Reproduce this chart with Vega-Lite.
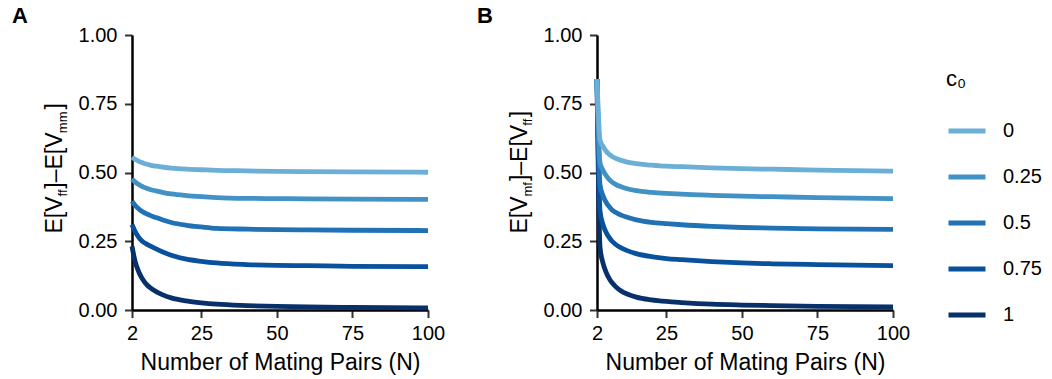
{
  "$schema": "https://vega.github.io/schema/vega-lite/v6.json",
  "background": "white",
  "padding": {"left": 12, "top": 5, "right": 0, "bottom": 0},
  "data": {
    "values": [
      {"panel": "A", "c0": "1", "N": 2, "value": 0.232},
      {"panel": "A", "c0": "1", "N": 3, "value": 0.178},
      {"panel": "A", "c0": "1", "N": 4, "value": 0.145},
      {"panel": "A", "c0": "1", "N": 5, "value": 0.121},
      {"panel": "A", "c0": "1", "N": 6, "value": 0.104},
      {"panel": "A", "c0": "1", "N": 7, "value": 0.091},
      {"panel": "A", "c0": "1", "N": 8, "value": 0.081},
      {"panel": "A", "c0": "1", "N": 10, "value": 0.067},
      {"panel": "A", "c0": "1", "N": 12, "value": 0.056},
      {"panel": "A", "c0": "1", "N": 15, "value": 0.044},
      {"panel": "A", "c0": "1", "N": 20, "value": 0.033},
      {"panel": "A", "c0": "1", "N": 25, "value": 0.026},
      {"panel": "A", "c0": "1", "N": 30, "value": 0.021},
      {"panel": "A", "c0": "1", "N": 40, "value": 0.016},
      {"panel": "A", "c0": "1", "N": 50, "value": 0.013},
      {"panel": "A", "c0": "1", "N": 60, "value": 0.011},
      {"panel": "A", "c0": "1", "N": 75, "value": 0.0095},
      {"panel": "A", "c0": "1", "N": 100, "value": 0.008},
      {"panel": "A", "c0": "0.75", "N": 2, "value": 0.311},
      {"panel": "A", "c0": "0.75", "N": 3, "value": 0.286},
      {"panel": "A", "c0": "0.75", "N": 4, "value": 0.268},
      {"panel": "A", "c0": "0.75", "N": 5, "value": 0.254},
      {"panel": "A", "c0": "0.75", "N": 6, "value": 0.245},
      {"panel": "A", "c0": "0.75", "N": 7, "value": 0.239},
      {"panel": "A", "c0": "0.75", "N": 8, "value": 0.233},
      {"panel": "A", "c0": "0.75", "N": 10, "value": 0.222},
      {"panel": "A", "c0": "0.75", "N": 12, "value": 0.212},
      {"panel": "A", "c0": "0.75", "N": 15, "value": 0.199},
      {"panel": "A", "c0": "0.75", "N": 20, "value": 0.185},
      {"panel": "A", "c0": "0.75", "N": 25, "value": 0.177},
      {"panel": "A", "c0": "0.75", "N": 30, "value": 0.171},
      {"panel": "A", "c0": "0.75", "N": 40, "value": 0.165},
      {"panel": "A", "c0": "0.75", "N": 50, "value": 0.162},
      {"panel": "A", "c0": "0.75", "N": 60, "value": 0.161},
      {"panel": "A", "c0": "0.75", "N": 75, "value": 0.159},
      {"panel": "A", "c0": "0.75", "N": 100, "value": 0.158},
      {"panel": "A", "c0": "0.5", "N": 2, "value": 0.396},
      {"panel": "A", "c0": "0.5", "N": 3, "value": 0.381},
      {"panel": "A", "c0": "0.5", "N": 4, "value": 0.370},
      {"panel": "A", "c0": "0.5", "N": 5, "value": 0.361},
      {"panel": "A", "c0": "0.5", "N": 6, "value": 0.354},
      {"panel": "A", "c0": "0.5", "N": 7, "value": 0.349},
      {"panel": "A", "c0": "0.5", "N": 8, "value": 0.344},
      {"panel": "A", "c0": "0.5", "N": 10, "value": 0.336},
      {"panel": "A", "c0": "0.5", "N": 12, "value": 0.328},
      {"panel": "A", "c0": "0.5", "N": 15, "value": 0.318},
      {"panel": "A", "c0": "0.5", "N": 20, "value": 0.308},
      {"panel": "A", "c0": "0.5", "N": 25, "value": 0.302},
      {"panel": "A", "c0": "0.5", "N": 30, "value": 0.297},
      {"panel": "A", "c0": "0.5", "N": 40, "value": 0.294},
      {"panel": "A", "c0": "0.5", "N": 50, "value": 0.292},
      {"panel": "A", "c0": "0.5", "N": 60, "value": 0.291},
      {"panel": "A", "c0": "0.5", "N": 75, "value": 0.290},
      {"panel": "A", "c0": "0.5", "N": 100, "value": 0.289},
      {"panel": "A", "c0": "0.25", "N": 2, "value": 0.477},
      {"panel": "A", "c0": "0.25", "N": 3, "value": 0.466},
      {"panel": "A", "c0": "0.25", "N": 4, "value": 0.458},
      {"panel": "A", "c0": "0.25", "N": 5, "value": 0.451},
      {"panel": "A", "c0": "0.25", "N": 6, "value": 0.446},
      {"panel": "A", "c0": "0.25", "N": 7, "value": 0.442},
      {"panel": "A", "c0": "0.25", "N": 8, "value": 0.438},
      {"panel": "A", "c0": "0.25", "N": 10, "value": 0.433},
      {"panel": "A", "c0": "0.25", "N": 12, "value": 0.428},
      {"panel": "A", "c0": "0.25", "N": 15, "value": 0.422},
      {"panel": "A", "c0": "0.25", "N": 20, "value": 0.416},
      {"panel": "A", "c0": "0.25", "N": 25, "value": 0.412},
      {"panel": "A", "c0": "0.25", "N": 30, "value": 0.409},
      {"panel": "A", "c0": "0.25", "N": 40, "value": 0.406},
      {"panel": "A", "c0": "0.25", "N": 50, "value": 0.405},
      {"panel": "A", "c0": "0.25", "N": 60, "value": 0.404},
      {"panel": "A", "c0": "0.25", "N": 75, "value": 0.403},
      {"panel": "A", "c0": "0.25", "N": 100, "value": 0.402},
      {"panel": "A", "c0": "0", "N": 2, "value": 0.556},
      {"panel": "A", "c0": "0", "N": 3, "value": 0.548},
      {"panel": "A", "c0": "0", "N": 4, "value": 0.542},
      {"panel": "A", "c0": "0", "N": 5, "value": 0.537},
      {"panel": "A", "c0": "0", "N": 6, "value": 0.533},
      {"panel": "A", "c0": "0", "N": 7, "value": 0.530},
      {"panel": "A", "c0": "0", "N": 8, "value": 0.527},
      {"panel": "A", "c0": "0", "N": 10, "value": 0.523},
      {"panel": "A", "c0": "0", "N": 12, "value": 0.520},
      {"panel": "A", "c0": "0", "N": 15, "value": 0.516},
      {"panel": "A", "c0": "0", "N": 20, "value": 0.512},
      {"panel": "A", "c0": "0", "N": 25, "value": 0.510},
      {"panel": "A", "c0": "0", "N": 30, "value": 0.508},
      {"panel": "A", "c0": "0", "N": 40, "value": 0.506},
      {"panel": "A", "c0": "0", "N": 50, "value": 0.504},
      {"panel": "A", "c0": "0", "N": 60, "value": 0.503},
      {"panel": "A", "c0": "0", "N": 75, "value": 0.502},
      {"panel": "A", "c0": "0", "N": 100, "value": 0.501},
      {"panel": "B", "c0": "1", "N": 2, "value": 0.84},
      {"panel": "B", "c0": "1", "N": 3, "value": 0.228},
      {"panel": "B", "c0": "1", "N": 4, "value": 0.17},
      {"panel": "B", "c0": "1", "N": 5, "value": 0.138},
      {"panel": "B", "c0": "1", "N": 6, "value": 0.115},
      {"panel": "B", "c0": "1", "N": 7, "value": 0.099},
      {"panel": "B", "c0": "1", "N": 8, "value": 0.087},
      {"panel": "B", "c0": "1", "N": 10, "value": 0.069},
      {"panel": "B", "c0": "1", "N": 12, "value": 0.058},
      {"panel": "B", "c0": "1", "N": 15, "value": 0.047},
      {"panel": "B", "c0": "1", "N": 20, "value": 0.037},
      {"panel": "B", "c0": "1", "N": 25, "value": 0.031},
      {"panel": "B", "c0": "1", "N": 30, "value": 0.027},
      {"panel": "B", "c0": "1", "N": 40, "value": 0.021},
      {"panel": "B", "c0": "1", "N": 50, "value": 0.018},
      {"panel": "B", "c0": "1", "N": 60, "value": 0.016},
      {"panel": "B", "c0": "1", "N": 75, "value": 0.013},
      {"panel": "B", "c0": "1", "N": 100, "value": 0.011},
      {"panel": "B", "c0": "0.75", "N": 2, "value": 0.84},
      {"panel": "B", "c0": "0.75", "N": 3, "value": 0.36},
      {"panel": "B", "c0": "0.75", "N": 4, "value": 0.31},
      {"panel": "B", "c0": "0.75", "N": 5, "value": 0.283},
      {"panel": "B", "c0": "0.75", "N": 6, "value": 0.264},
      {"panel": "B", "c0": "0.75", "N": 7, "value": 0.250},
      {"panel": "B", "c0": "0.75", "N": 8, "value": 0.240},
      {"panel": "B", "c0": "0.75", "N": 10, "value": 0.226},
      {"panel": "B", "c0": "0.75", "N": 12, "value": 0.216},
      {"panel": "B", "c0": "0.75", "N": 15, "value": 0.205},
      {"panel": "B", "c0": "0.75", "N": 20, "value": 0.194},
      {"panel": "B", "c0": "0.75", "N": 25, "value": 0.187},
      {"panel": "B", "c0": "0.75", "N": 30, "value": 0.183},
      {"panel": "B", "c0": "0.75", "N": 40, "value": 0.176},
      {"panel": "B", "c0": "0.75", "N": 50, "value": 0.171},
      {"panel": "B", "c0": "0.75", "N": 60, "value": 0.168},
      {"panel": "B", "c0": "0.75", "N": 75, "value": 0.165},
      {"panel": "B", "c0": "0.75", "N": 100, "value": 0.161},
      {"panel": "B", "c0": "0.5", "N": 2, "value": 0.84},
      {"panel": "B", "c0": "0.5", "N": 3, "value": 0.455},
      {"panel": "B", "c0": "0.5", "N": 4, "value": 0.415},
      {"panel": "B", "c0": "0.5", "N": 5, "value": 0.392},
      {"panel": "B", "c0": "0.5", "N": 6, "value": 0.376},
      {"panel": "B", "c0": "0.5", "N": 7, "value": 0.364},
      {"panel": "B", "c0": "0.5", "N": 8, "value": 0.356},
      {"panel": "B", "c0": "0.5", "N": 10, "value": 0.345},
      {"panel": "B", "c0": "0.5", "N": 12, "value": 0.337},
      {"panel": "B", "c0": "0.5", "N": 15, "value": 0.328},
      {"panel": "B", "c0": "0.5", "N": 20, "value": 0.319},
      {"panel": "B", "c0": "0.5", "N": 25, "value": 0.314},
      {"panel": "B", "c0": "0.5", "N": 30, "value": 0.310},
      {"panel": "B", "c0": "0.5", "N": 40, "value": 0.304},
      {"panel": "B", "c0": "0.5", "N": 50, "value": 0.300},
      {"panel": "B", "c0": "0.5", "N": 60, "value": 0.298},
      {"panel": "B", "c0": "0.5", "N": 75, "value": 0.295},
      {"panel": "B", "c0": "0.5", "N": 100, "value": 0.293},
      {"panel": "B", "c0": "0.25", "N": 2, "value": 0.84},
      {"panel": "B", "c0": "0.25", "N": 3, "value": 0.535},
      {"panel": "B", "c0": "0.25", "N": 4, "value": 0.508},
      {"panel": "B", "c0": "0.25", "N": 5, "value": 0.489},
      {"panel": "B", "c0": "0.25", "N": 6, "value": 0.475},
      {"panel": "B", "c0": "0.25", "N": 7, "value": 0.465},
      {"panel": "B", "c0": "0.25", "N": 8, "value": 0.458},
      {"panel": "B", "c0": "0.25", "N": 10, "value": 0.448},
      {"panel": "B", "c0": "0.25", "N": 12, "value": 0.441},
      {"panel": "B", "c0": "0.25", "N": 15, "value": 0.434},
      {"panel": "B", "c0": "0.25", "N": 20, "value": 0.428},
      {"panel": "B", "c0": "0.25", "N": 25, "value": 0.424},
      {"panel": "B", "c0": "0.25", "N": 30, "value": 0.421},
      {"panel": "B", "c0": "0.25", "N": 40, "value": 0.417},
      {"panel": "B", "c0": "0.25", "N": 50, "value": 0.414},
      {"panel": "B", "c0": "0.25", "N": 60, "value": 0.412},
      {"panel": "B", "c0": "0.25", "N": 75, "value": 0.409},
      {"panel": "B", "c0": "0.25", "N": 100, "value": 0.405},
      {"panel": "B", "c0": "0", "N": 2, "value": 0.84},
      {"panel": "B", "c0": "0", "N": 3, "value": 0.618},
      {"panel": "B", "c0": "0", "N": 4, "value": 0.595},
      {"panel": "B", "c0": "0", "N": 5, "value": 0.578},
      {"panel": "B", "c0": "0", "N": 6, "value": 0.566},
      {"panel": "B", "c0": "0", "N": 7, "value": 0.558},
      {"panel": "B", "c0": "0", "N": 8, "value": 0.552},
      {"panel": "B", "c0": "0", "N": 10, "value": 0.544},
      {"panel": "B", "c0": "0", "N": 12, "value": 0.538},
      {"panel": "B", "c0": "0", "N": 15, "value": 0.532},
      {"panel": "B", "c0": "0", "N": 20, "value": 0.527},
      {"panel": "B", "c0": "0", "N": 25, "value": 0.523},
      {"panel": "B", "c0": "0", "N": 30, "value": 0.521},
      {"panel": "B", "c0": "0", "N": 40, "value": 0.517},
      {"panel": "B", "c0": "0", "N": 50, "value": 0.514},
      {"panel": "B", "c0": "0", "N": 60, "value": 0.512},
      {"panel": "B", "c0": "0", "N": 75, "value": 0.509},
      {"panel": "B", "c0": "0", "N": 100, "value": 0.505}
    ]
  },
  "spacing": 32,
  "hconcat": [
    {
      "title": {"text": "A", "anchor": "start", "frame": "group", "dx": -120},
      "transform": [{"filter": "datum.panel === 'A'"}],
      "width": 296,
      "height": 275,
      "layer": [
        {
          "mark": {"type": "line", "strokeWidth": 4.8, "interpolate": "monotone"},
          "encoding": {
            "x": {"field": "N", "type": "quantitative", "title": "Number of Mating Pairs (N)",
                  "scale": {"domain": [2, 100], "nice": false, "zero": false},
                  "axis": {"values": [2, 25, 50, 75, 100]}},
            "y": {"field": "value", "type": "quantitative",
                  "scale": {"domain": [0, 1], "nice": false},
                  "axis": {"values": [0, 0.25, 0.5, 0.75, 1], "format": ".2f",
                           "title": "E[V\u2004]–E[V\u2003]",
                           "titleAlign": "left", "titleBaseline": "alphabetic", "titleAngle": -90,
                           "titleX": -71, "titleY": 198}},
            "color": {"field": "c0", "type": "nominal",
                      "scale": {"domain": ["0", "0.25", "0.5", "0.75", "1"],
                                "range": ["#6baed6", "#4292c6", "#2171b5", "#08519c", "#08306b"]},
                      "legend": {"title": "c₀", "orient": "none", "legendX": 814, "legendY": 34}}
          }
        },
        {
          "mark": {"type": "point", "opacity": 0},
          "encoding": {
            "x": {"field": "N", "type": "quantitative", "title": "Number of Mating Pairs (N)",
                  "scale": {"domain": [2, 100], "nice": false, "zero": false},
                  "axis": {"values": [2, 25, 50, 75, 100]}},
            "y": {"field": "value", "type": "quantitative",
                  "scale": {"domain": [0, 1], "nice": false},
                  "axis": {"orient": "left", "labels": false, "ticks": false, "domain": false,
                           "title": "ff\u2003\u2003\u2003\u2003\u2004mm", "titleFontSize": 13,
                           "titleAlign": "left", "titleBaseline": "alphabetic", "titleAngle": -90,
                           "titleX": -66, "titleY": 161}}
          }
        }
      ],
      "resolve": {"scale": {"y": "independent"}}
    },
    {
      "title": {"text": "B", "anchor": "start", "frame": "group", "dx": -120},
      "transform": [{"filter": "datum.panel === 'B'"}],
      "width": 296,
      "height": 275,
      "layer": [
        {
          "mark": {"type": "line", "strokeWidth": 4.8, "interpolate": "monotone"},
          "encoding": {
            "x": {"field": "N", "type": "quantitative", "title": "Number of Mating Pairs (N)",
                  "scale": {"domain": [2, 100], "nice": false, "zero": false},
                  "axis": {"values": [2, 25, 50, 75, 100]}},
            "y": {"field": "value", "type": "quantitative",
                  "scale": {"domain": [0, 1], "nice": false},
                  "axis": {"values": [0, 0.25, 0.5, 0.75, 1], "format": ".2f",
                           "title": "E[V\u2002\u2006]–E[V\u2004]",
                           "titleAlign": "left", "titleBaseline": "alphabetic", "titleAngle": -90,
                           "titleX": -71, "titleY": 198}},
            "color": {"field": "c0", "type": "nominal",
                      "scale": {"domain": ["0", "0.25", "0.5", "0.75", "1"],
                                "range": ["#6baed6", "#4292c6", "#2171b5", "#08519c", "#08306b"]},
                      "legend": {"title": "c₀", "orient": "none", "legendX": 814, "legendY": 34}}
          }
        },
        {
          "mark": {"type": "point", "opacity": 0},
          "encoding": {
            "x": {"field": "N", "type": "quantitative", "title": "Number of Mating Pairs (N)",
                  "scale": {"domain": [2, 100], "nice": false, "zero": false},
                  "axis": {"values": [2, 25, 50, 75, 100]}},
            "y": {"field": "value", "type": "quantitative",
                  "scale": {"domain": [0, 1], "nice": false},
                  "axis": {"orient": "left", "labels": false, "ticks": false, "domain": false,
                           "title": "mf\u2003\u2003\u2003\u2003\u2004ff", "titleFontSize": 13,
                           "titleAlign": "left", "titleBaseline": "alphabetic", "titleAngle": -90,
                           "titleX": -66, "titleY": 161}}
          }
        }
      ],
      "resolve": {"scale": {"y": "independent"}}
    }
  ],
  "resolve": {"scale": {"color": "shared"}},
  "config": {
    "font": "Liberation Sans",
    "view": {"stroke": null},
    "axis": {
      "grid": false,
      "domainColor": "#000000",
      "domainWidth": 2.5,
      "tickColor": "#333333",
      "tickWidth": 2,
      "tickSize": 7.5,
      "labelFontSize": 20,
      "labelColor": "#000000",
      "titleFontSize": 23,
      "titleFontWeight": "normal",
      "titleColor": "#000000"
    },
    "axisX": {"labelPadding": 6, "titlePadding": 8, "labelFlush": false},
    "axisY": {"labelPadding": 7.5},
    "title": {"fontSize": 22, "fontWeight": "bold", "color": "#000000", "baseline": "alphabetic", "offset": -3},
    "legend": {
      "symbolType": "stroke",
      "symbolStrokeWidth": 5,
      "symbolSize": 1369,
      "symbolOpacity": 1,
      "labelFontSize": 20,
      "labelColor": "#000000",
      "labelOffset": 15,
      "titleFontSize": 22,
      "titleFontWeight": "normal",
      "titleColor": "#000000",
      "titlePadding": 19,
      "rowPadding": 15,
      "padding": 0
    }
  }
}
